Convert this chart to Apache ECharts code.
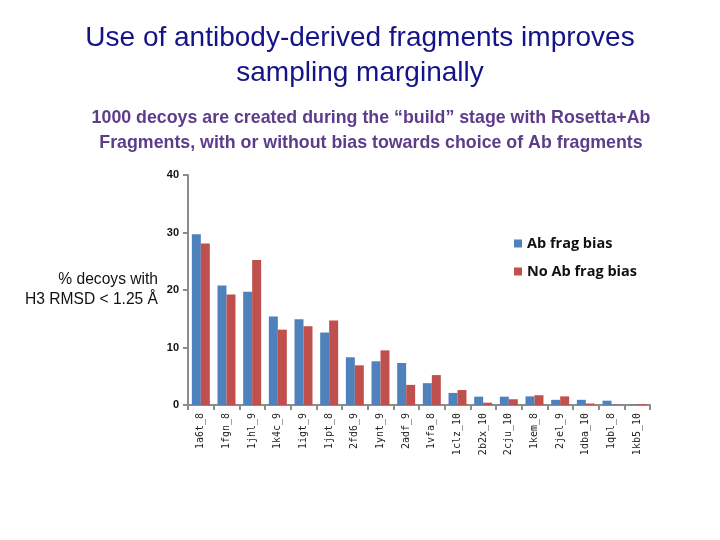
<!DOCTYPE html>
<html><head><meta charset="utf-8">
<script src="https://cdn.jsdelivr.net/npm/echarts@6/dist/echarts.min.js"></script>
<style>html,body{margin:0;padding:0;background:#fff}#c{width:720px;height:540px}</style>
</head><body><div id="c"></div>
<script>
const categories = ["1a6t_8","1fgn_8","1jhl_9","1k4c_9","1igt_9","1jpt_8","2fd6_9","1ynt_9","2adf_9","1vfa_8","1clz_10","2b2x_10","2cju_10","1kem_8","2jel_9","1dba_10","1qbl_8","1kb5_10"];
const abFragBias = [29.7,20.8,19.7,15.4,14.9,12.6,8.3,7.6,7.3,3.8,2.1,1.45,1.45,1.5,0.9,0.9,0.75,0.05];
const noAbFragBias = [28.1,19.2,25.2,13.1,13.7,14.7,6.9,9.5,3.5,5.2,2.6,0.4,1.0,1.7,1.5,0.25,0.05,0.15];
const yTicks = [0,10,20,30,40];

const chart = echarts.init(document.getElementById('c'));
chart.setOption({
  animation:false,
  title:[
    {text:"Use of antibody-derived fragments improves\nsampling marginally",left:355,top:16,textAlign:'center',
     textStyle:{fontFamily:'Liberation Sans, Arial',fontSize:28,fontWeight:'normal',color:'#14148a',lineHeight:35}},
    {text:"1000 decoys are created during the \u201cbuild\u201d stage with Rosetta+Ab\nFragments, with or without bias towards choice of Ab fragments",left:366,top:101,textAlign:'center',
     textStyle:{fontFamily:'Liberation Sans, Arial',fontSize:17.8,fontWeight:'bold',color:'#5e3c8c',lineHeight:25}}
  ],
  legend:{orient:'vertical',left:509,top:231,itemGap:13,itemWidth:8,itemHeight:8,icon:'rect',
    textStyle:{fontFamily:'Open Sans, Liberation Sans',fontSize:14.5,fontWeight:'bold',color:'#111'},
    data:["Ab frag bias","No Ab frag bias"]},
  grid:{left:188,right:70,top:175,bottom:135},
  xAxis:{type:'category',data:categories,
    axisLine:{lineStyle:{color:'#8c8c8c',width:2}},
    axisTick:{show:true,interval:0,length:5,lineStyle:{color:'#8c8c8c',width:2}},
    axisLabel:{interval:0,rotate:90,fontFamily:'DejaVu Sans Mono, monospace',fontSize:10,color:'#222',margin:8}},
  yAxis:{type:'value',min:0,max:40,interval:10,
    name:"% decoys with\nH3 RMSD < 1.25 \u00c5",nameLocation:'middle',nameRotate:0,nameGap:30,
    nameTextStyle:{fontFamily:'Liberation Sans, Arial',fontSize:15.6,color:'#111',align:'right',lineHeight:20},
    splitLine:{show:false},
    axisLine:{show:true,lineStyle:{color:'#8c8c8c',width:2}},
    axisTick:{show:true,length:5,lineStyle:{color:'#8c8c8c',width:2}},
    axisLabel:{fontFamily:'Liberation Sans, Arial',fontSize:11,fontWeight:'bold',color:'#111',margin:9,
      formatter:v=>yTicks.includes(v)?String(v):''}},
  series:[
    {name:"Ab frag bias",type:'bar',data:abFragBias,itemStyle:{color:'#4f81bd'},barGap:'0%',barCategoryGap:'30%'},
    {name:"No Ab frag bias",type:'bar',data:noAbFragBias,itemStyle:{color:'#c0504d'},barGap:'0%',barCategoryGap:'30%'}
  ]
});
</script></body></html>
